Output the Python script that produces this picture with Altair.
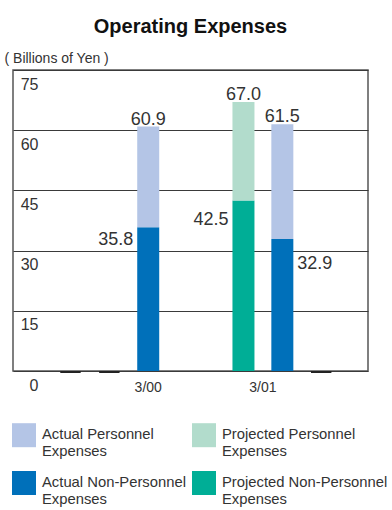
import altair as alt
import pandas as pd

# Fiscal year-end slots along the horizontal axis (empty slots draw as stubs)
slots = ["3/98", "3/99", "3/00", "3/01 plan", "3/01", "3/02 plan"]
basis = ["Actual", "Actual", "Actual", "Projected", "Actual", "Projected"]
year_of_slot = ["3/98", "3/99", "3/00", "3/01", "3/01", "3/02"]
non_personnel = [0.0, 0.0, 35.8, 42.5, 32.9, 0.0]
total = [0.0, 0.0, 60.9, 67.0, 61.5, 0.0]

shown_years = ["3/00", "3/01"]
y_ticks = [0, 15, 30, 45, 60, 75]

# legend fills column by column: actual series left, projected series right
series = [
    "Actual Personnel Expenses",
    "Actual Non-Personnel Expenses",
    "Projected Personnel Expenses",
    "Projected Non-Personnel Expenses",
]
colors = ["#b4c5e6", "#0070ba", "#b2dccc", "#00ae96"]

FONT = "Liberation Sans"
INK = "#333333"

# slot positions: one unit per slot, with a wider gap before the 3/01 group
GROUP_GAP = 1.45
pos = [i + (GROUP_GAP if i >= 3 else 0.0) for i in range(len(slots))]
STUB_HALF = 0.2625

xscale = alt.Scale(domain=[-1.35, 7.525], nice=False, zero=False)
yscale = alt.Scale(domain=[0, 75], nice=False)

yaxis = alt.Axis(
    values=y_ticks, grid=True, gridColor="#3a3a3a", gridWidth=1,
    domain=False, ticks=False, tickSize=0,
    labelAlign="right", labelBaseline="middle", labelPadding=-25, labelOffset=14,
    labelFontSize=16, labelColor=INK, labelFont=FONT,
    labelFlush=False, labelOverlap=False,
    title="( Billions of Yen )", titleAngle=0, titleX=-9, titleY=-12,
    titleAlign="left", titleBaseline="middle", titleFontSize=14,
    titleFontWeight="normal", titleColor=INK, titleFont=FONT,
)

# stacked segments: non-personnel at the bottom, personnel on top
rows = []
for s, b, npv, t, p in zip(slots, basis, non_personnel, total, pos):
    if t > 0:
        rows.append({"slot": s, "pos": p, "series": f"{b} Non-Personnel Expenses", "value": npv, "layer": 0})
        rows.append({"slot": s, "pos": p, "series": f"{b} Personnel Expenses", "value": t - npv, "layer": 1})
stack_df = pd.DataFrame(rows)

slot_df = pd.DataFrame({
    "slot": slots, "pos": pos, "total": total, "non_personnel": non_personnel,
    "year": year_of_slot, "zero": 0.0,
})
slot_df["left"] = slot_df["pos"] - STUB_HALF
slot_df["right"] = slot_df["pos"] + STUB_HALF

legend = alt.Legend(
    title=None, orient="none", legendX=-1, legendY=353, columns=2,
    symbolType="square", symbolSize=576, symbolStrokeWidth=0, symbolOpacity=1,
    labelFontSize=14.8, labelFont=FONT, labelColor=INK, labelOffset=6,
    labelBaseline="middle",
    labelLimit=300, columnPadding=6, rowPadding=12, padding=0,
    labelExpr="[replace(datum.label, ' Expenses', ''), 'Expenses']",
)

bars = alt.Chart(stack_df).mark_bar(size=22).encode(
    x=alt.X("pos:Q", scale=xscale, axis=None),
    y=alt.Y("value:Q", stack="zero", scale=yscale, axis=yaxis),
    color=alt.Color("series:N", scale=alt.Scale(domain=series, range=colors), legend=legend),
    order=alt.Order("layer:Q"),
)

filled = slot_df[slot_df["total"] > 0]
empty = slot_df[slot_df["total"] == 0]

stubs = alt.Chart(empty).mark_rule(color="#222222", strokeWidth=2, yOffset=1).encode(
    x=alt.X("left:Q", scale=xscale, axis=None),
    x2="right:Q",
    y=alt.Y("zero:Q", scale=yscale, axis=yaxis),
)

total_labels = alt.Chart(filled).mark_text(
    baseline="alphabetic", dy=-2, fontSize=18, font=FONT, color=INK
).encode(
    x=alt.X("pos:Q", scale=xscale, axis=None),
    y=alt.Y("total:Q", scale=yscale, axis=yaxis),
    text=alt.Text("total:Q", format=".1f"),
)

# non-personnel values sit beside their segment
side_style = {
    "3/00": ("right", -15, 13),
    "3/01 plan": ("right", -15, 20),
    "3/01": ("left", 15, 25),
}
side_layers = []
for slot, (align, dx, dy) in side_style.items():
    side_layers.append(
        alt.Chart(filled[filled["slot"] == slot]).mark_text(
            align=align, baseline="middle", dx=dx, dy=dy, fontSize=18, font=FONT, color=INK
        ).encode(
            x=alt.X("pos:Q", scale=xscale, axis=None),
            y=alt.Y("non_personnel:Q", scale=yscale, axis=yaxis),
            text=alt.Text("non_personnel:Q", format=".1f"),
        )
    )

year_df = pd.DataFrame({
    "year": shown_years,
    "pos": [slot_df.loc[slot_df["year"] == y, "pos"].mean() for y in shown_years],
    "zero": 0.0,
})
year_labels = alt.Chart(year_df).mark_text(
    baseline="middle", dy=17, fontSize=14, font=FONT, color=INK
).encode(
    x=alt.X("pos:Q", scale=xscale, axis=None),
    y=alt.Y("zero:Q", scale=yscale, axis=yaxis),
    text="year:N",
)

chart = alt.layer(bars, stubs, total_labels, *side_layers, year_labels).properties(
    width=355,
    height=301,
    padding={"left": 13, "top": 70, "right": 24, "bottom": 139},
    autosize=alt.AutoSizeParams(type="none"),
    title=alt.TitleParams(
        "Operating Expenses", fontSize=20, fontWeight="bold", font=FONT, color="#111111",
        anchor="middle", frame="group", baseline="alphabetic", offset=-2,
    ),
).configure_view(stroke="#555555", strokeWidth=1.5)

chart.save("out.html", embed_options={"renderer": "svg", "actions": False})
